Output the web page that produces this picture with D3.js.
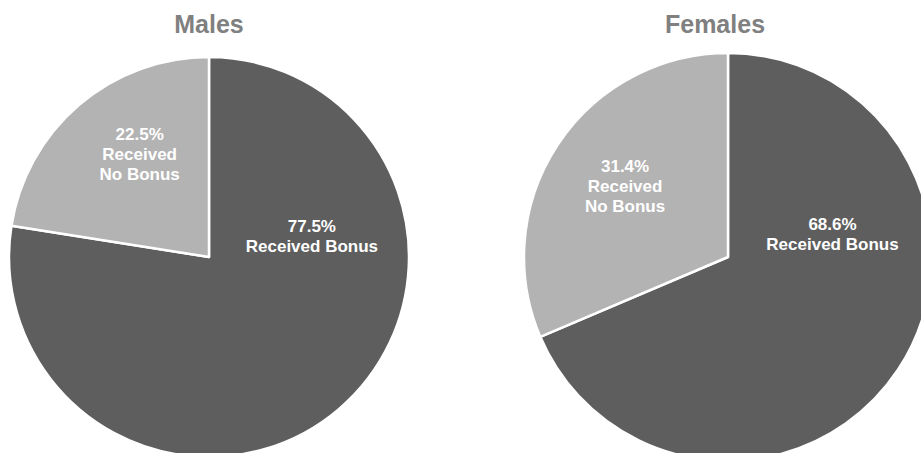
<!DOCTYPE html>
<html>
<head>
<meta charset="utf-8">
<script src="https://cdn.jsdelivr.net/npm/d3@7"></script>
<style>
  html, body { margin: 0; padding: 0; background: #fff; }
  svg { display: block; }
</style>
</head>
<body>
<svg id="chart" width="921" height="453"></svg>
<script>
// ---- data ----
const groups = ["Males", "Females"];
const categories = ["Received Bonus", "Received No Bonus"];
const malesValues = [77.5, 22.5];
const femalesValues = [68.6, 31.4];
const labelLines = [["Received Bonus"], ["Received", "No Bonus"]];

// ---- layout / style ----
const W = 921, H = 453;
const colors = ["#5e5e5e", "#b3b3b3"];
const pieLayout = [
  { cx: 209, cy: 257, r: 200, titleX: 209, labelPolar: [[78.5, 0.525], [-34.0, 0.62]] },
  { cx: 728, cy: 257, r: 204, titleX: 715, labelPolar: [[77.3, 0.525], [-55.4, 0.613]] }
];
const seriesValues = [malesValues, femalesValues];

const svg = d3.select("#chart");
const pie = d3.pie().sort(null).value(d => d);

groups.forEach((g, gi) => {
  const L = pieLayout[gi];
  const arcs = pie(seriesValues[gi]);
  const arc = d3.arc().innerRadius(0).outerRadius(L.r);
  const gEl = svg.append("g").attr("transform", `translate(${L.cx},${L.cy})`);

  gEl.selectAll("path").data(arcs).join("path")
    .attr("d", arc)
    .attr("fill", (d, i) => colors[i])
    .attr("stroke", "#fff")
    .attr("stroke-width", 2.5)
    .attr("stroke-linejoin", "round");

  // labels
  arcs.forEach((a, i) => {
    const [angDeg, frac] = L.labelPolar[i];
    const ang = angDeg * Math.PI / 180;
    const x = Math.sin(ang) * frac * L.r;
    const y = -Math.cos(ang) * frac * L.r;
    const lines = [d3.format(".1f")(a.data) + "%"].concat(labelLines[i]);
    const lh = 20, capH = 12.3;
    const y0 = y - (lines.length - 1) * lh / 2 + capH / 2;
    const t = gEl.append("text")
      .attr("text-anchor", "middle")
      .attr("fill", "#ffffff")
      .attr("font-family", "Arial, 'Liberation Sans', sans-serif")
      .attr("font-weight", "bold")
      .attr("font-size", "17px");
    lines.forEach((ln, k) => {
      t.append("tspan").attr("x", x).attr("y", y0 + k * lh).text(ln);
    });
  });

  svg.append("text")
    .attr("x", L.titleX)
    .attr("y", 33)
    .attr("text-anchor", "middle")
    .attr("fill", "#808080")
    .attr("font-family", "Arial, 'Liberation Sans', sans-serif")
    .attr("font-weight", "bold")
    .attr("font-size", "25px")
    .text(g);
});
</script>
</body>
</html>
